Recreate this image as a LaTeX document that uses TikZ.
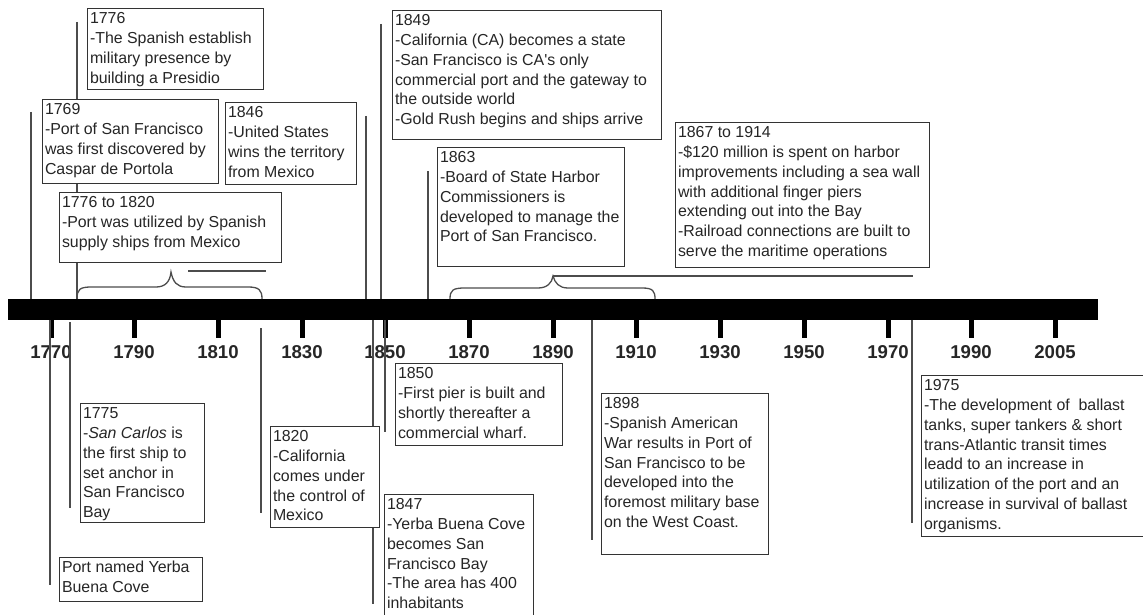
\documentclass[tikz,border=0pt]{standalone}
\usepackage{fontspec}
\setmainfont{Liberation Sans}
\newfontfamily\nomapfont{Liberation Sans}
\tikzset{
  tbox/.style={draw=black!80, line width=1pt, fill=white, anchor=north west,
    inner xsep=2.5pt, inner ysep=1.3pt, text=black!85,
    font=\fontsize{15.9}{19.8}\selectfont},
  conn/.style={draw=black!70, line width=1.3pt},
  tickmark/.style={line width=5pt, draw=black},
  yearlbl/.style={font=\fontsize{18.6}{20}\selectfont\bfseries, text=black!85, inner sep=0},
  timebar/.style={fill=black, draw=none, minimum width=1090pt, minimum height=21pt,
    inner sep=0, anchor=north west},
}
\newcommand\tlbox[6]{\node[tbox] (#1) at (#2,#3)
  {\parbox[t][\dimexpr#5pt-2.6pt\relax][t]{\dimexpr#4pt-5pt\relax}{\strut #6}};}
\begin{document}
\begin{tikzpicture}[x=1pt,y=-1pt]
\useasboundingbox (0,0) rectangle (1143,615);
\clip (0,0) rectangle (1143,615);

% ticks and year labels
\foreach \x/\yr in {51/1770,134/1790,218/1810,302/1830,385/1850,469/1870,553/1890,
                    636/1910,720/1930,804/1950,888/1970,971/1990,1055/2005}{
  \draw[tickmark] (\x,319) -- (\x,338);
  \node[yearlbl] (y\yr) at (\x,352) {\yr};
}

% the bar (as a node)
\node[timebar] (bar) at (8,299) {};

% connector end points
\coordinate (t1769) at (31,112);
\coordinate (t1776) at (77,22);
\coordinate (t1846) at (366,116);
\coordinate (t1849) at (381,24);
\coordinate (t1863) at (428,171);
\coordinate (b1769) at (50,585);
\coordinate (b1775a) at (70,322);
\coordinate (b1775b) at (70,508);
\coordinate (b1820a) at (261,328);
\coordinate (b1820b) at (261,513);
\coordinate (b1847) at (373,604);
\coordinate (b1850) at (385,432);
\coordinate (b1898) at (592,540);
\coordinate (b1975) at (912,523);

\draw[conn] (t1769) -- (t1769 |- bar.north);
\draw[conn] (t1776) -- (t1776 |- bar.north);
\draw[conn] (t1846) -- (t1846 |- bar.north);
\draw[conn] (t1849) -- (t1849 |- bar.north);
\draw[conn] (t1863) -- (t1863 |- bar.north);
\draw[conn] (b1769 |- bar.south) -- (b1769);
\draw[conn] (b1775a) -- (b1775b);
\draw[conn] (b1820a) -- (b1820b);
\draw[conn] (b1847 |- bar.south) -- (b1847);
\draw[conn] (b1850 |- bar.south) -- (b1850);
\draw[conn] (b1898 |- bar.south) -- (b1898);
\draw[conn] (b1975 |- bar.south) -- (b1975);

% braces
\coordinate (br1tip) at (171,272);
\coordinate (br2tip) at (553,276);
\draw[conn] (77,299) .. controls (77,289) and (80,287) .. (92,287) -- (156,287)
  .. controls (165,287) and (170,282) .. (br1tip)
  .. controls (173,282) and (177,287) .. (186,287) -- (248,287)
  .. controls (259,287) and (262,290) .. (262,299);
\draw[conn] (188,271) -- (266,271);
\draw[conn] (450,299) .. controls (450,290) and (453,288) .. (465,288) -- (538,288)
  .. controls (547,288) and (552,283) .. (br2tip)
  .. controls (555,283) and (559,288) .. (568,288) -- (642,288)
  .. controls (653,288) and (655,291) .. (655,299);
\coordinate (br2end) at (913,276);
\draw[conn] (br2tip) -- (br2end);

% boxes above
\tlbox{A}{87}{8}{176}{81}{1776\\-The Spanish establish\\military presence by\\building a Presidio}
\tlbox{B}{42}{99}{176}{84}{1769\\-Port of San Francisco\\was first discovered by\\Caspar de Portola}
\tlbox{C}{225}{102}{131}{82}{1846\\-United States\\wins the territory\\from Mexico}
\tlbox{D}{59}{192}{222}{70}{1776 to 1820\\-Port was utilized by Spanish\\supply ships from Mexico}
\tlbox{E}{392}{10}{269}{129}{1849\\-California (CA) becomes a state\\-San Francisco is CA{\nomapfont '}s only\\commercial port and the gateway to\\the outside world\\-Gold Rush begins and ships arrive}
\tlbox{F}{437}{147}{187}{119}{1863\\-Board of State Harbor\\Commissioners is\\developed to manage the\\Port of San Francisco.}
\tlbox{G}{675}{122}{254}{145}{1867 to 1914\\-\$120 million is spent on harbor\\improvements including a sea wall\\with additional finger piers\\extending out into the Bay\\-Railroad connections are built to\\serve the maritime operations}

% boxes below
\tlbox{H}{59}{557}{143}{44}{Port named Yerba\\Buena Cove}
\tlbox{I}{80}{403}{124}{119}{1775\\-\textit{San Carlos} is\\the first ship to\\set anchor in\\San Francisco\\Bay}
\tlbox{J}{270}{426}{109}{101}{1820\\-California\\comes under\\the control of\\Mexico}
\tlbox{K}{384}{494}{149}{140}{1847\\-Yerba Buena Cove\\becomes San\\Francisco Bay\\-The area has 400\\inhabitants}
\tlbox{L}{395}{363}{167}{82}{1850\\-First pier is built and\\shortly thereafter a\\commercial wharf.}
\tlbox{M}{601}{393}{167}{161}{1898\\-Spanish American\\War results in Port of\\San Francisco to be\\developed into the\\foremost military base\\on the West Coast.}
\tlbox{N}{921}{375}{240}{161}{1975\\-The development of\ \ ballast\\tanks, super tankers \& short\\trans-Atlantic transit times\\leadd to an increase in\\utilization of the port and an\\increase in survival of ballast\\organisms.}
\end{tikzpicture}
\end{document}
